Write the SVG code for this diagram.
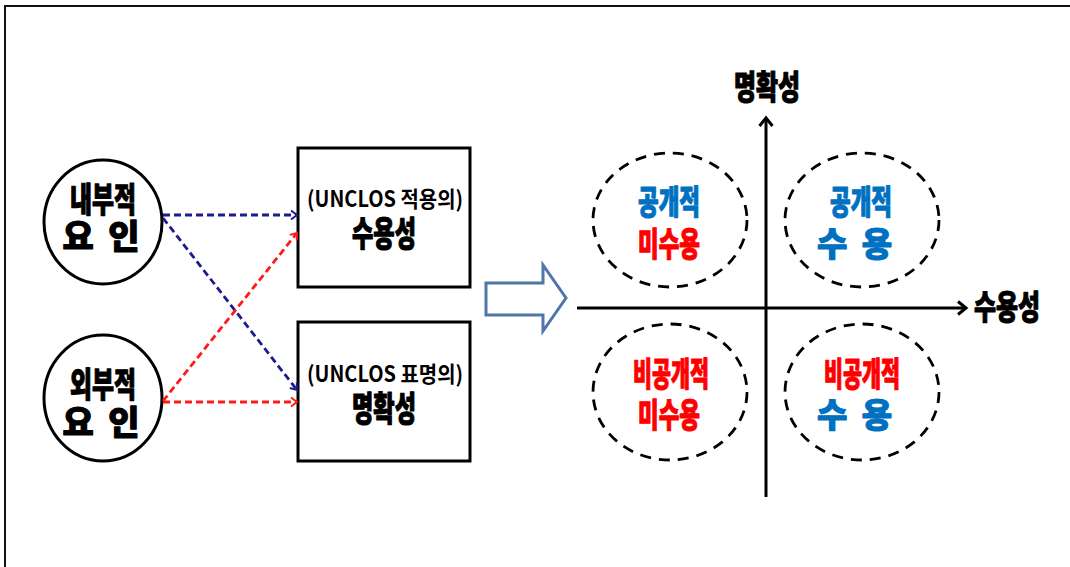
<svg xmlns="http://www.w3.org/2000/svg" width="1070" height="567" viewBox="0 0 1070 567">
<style>
.k{font-family:"Noto Sans CJK KR","Noto Sans",sans-serif;font-weight:900;text-anchor:middle;stroke-width:1.1;stroke-linejoin:round}
.sub{font-family:"Noto Sans CJK KR","Liberation Sans",sans-serif;font-weight:700;font-size:22px;text-anchor:middle;fill:#000}
.big{font-size:34px;fill:#000;stroke:#000}
.q{font-size:33px}
.blue{fill:#0070C0;stroke:#0070C0}
.red{fill:#FF0000;stroke:#FF0000}
.blk{fill:#000;stroke:#000}
.node{fill:#fff;stroke:#000;stroke-width:3}
.qd{fill:none;stroke:#000;stroke-width:2.8;stroke-dasharray:11 8}
.cb{fill:none;stroke:#1c1c8e;stroke-width:2.8;stroke-dasharray:7 4}
.cr{fill:none;stroke:#ff1a1a;stroke-width:2.8;stroke-dasharray:7 4}
.ax{fill:none;stroke:#000;stroke-width:3}
</style>
<defs>
<marker id="ab" markerUnits="userSpaceOnUse" markerWidth="12" markerHeight="12" refX="9" refY="6" orient="auto">
<path d="M3,1.5 L9,6 L3,10.5" fill="none" stroke="#1c1c8e" stroke-width="2"/>
</marker>
<marker id="ar" markerUnits="userSpaceOnUse" markerWidth="12" markerHeight="12" refX="9" refY="6" orient="auto">
<path d="M3,1.5 L9,6 L3,10.5" fill="none" stroke="#ff1a1a" stroke-width="2"/>
</marker>
<marker id="ak" markerUnits="userSpaceOnUse" markerWidth="16" markerHeight="16" refX="12" refY="8" orient="auto">
<path d="M4,1.5 L12,8 L4,14.5" fill="none" stroke="#000" stroke-width="3"/>
</marker>
</defs>
<rect width="1070" height="567" fill="#fff"/>
<path d="M5,567 L5,6 L1070,6" fill="none" stroke="#111" stroke-width="2"/>

<g id="internal">
<ellipse class="node" cx="103" cy="222" rx="59" ry="62"/>
<text class="k big" x="103" y="212" textLength="66" lengthAdjust="spacingAndGlyphs">내부적</text>
<text class="k big" y="249"><tspan x="82">요</tspan> <tspan x="124">인</tspan></text>
</g>
<g id="external">
<ellipse class="node" cx="103" cy="398" rx="59" ry="63"/>
<text class="k big" x="103" y="397" textLength="66" lengthAdjust="spacingAndGlyphs">외부적</text>
<text class="k big" y="435"><tspan x="82">요</tspan> <tspan x="124">인</tspan></text>
</g>
<g id="acceptance">
<rect class="node" x="298" y="148" width="172" height="139"/>
<text class="sub" x="385" y="207" textLength="156" lengthAdjust="spacingAndGlyphs">(UNCLOS 적용의)</text>
<text class="k big" x="384" y="246" textLength="64" lengthAdjust="spacingAndGlyphs">수용성</text>
</g>
<g id="clarity">
<rect class="node" x="298" y="322" width="172" height="139"/>
<text class="sub" x="385" y="382" textLength="156" lengthAdjust="spacingAndGlyphs">(UNCLOS 표명의)</text>
<text class="k big" x="384" y="421" textLength="64" lengthAdjust="spacingAndGlyphs">명확성</text>
</g>

<g id="connectors">
<line class="cb" x1="163" y1="215" x2="297" y2="215" marker-end="url(#ab)"/>
<line class="cb" x1="163" y1="218" x2="297" y2="390" marker-end="url(#ab)"/>
<line class="cr" x1="163" y1="401" x2="297" y2="233" marker-end="url(#ar)"/>
<line class="cr" x1="163" y1="402" x2="297" y2="402" marker-end="url(#ar)"/>
</g>

<g id="transition-arrow">
<polygon points="486,283 543,283 543,265 566,298 543,331 543,315 486,315" fill="#fff" stroke="#4f76a8" stroke-width="3" stroke-linejoin="miter"/>
</g>

<g id="axes">
<line class="ax" x1="766" y1="497" x2="766" y2="118" marker-end="url(#ak)"/>
<line class="ax" x1="577" y1="308" x2="966" y2="308" marker-end="url(#ak)"/>
<text class="k blk" x="767" y="99" font-size="33" textLength="66" lengthAdjust="spacingAndGlyphs">명확성</text>
<text class="k blk" x="1007" y="319" font-size="33" textLength="66" lengthAdjust="spacingAndGlyphs">수용성</text>
</g>

<g id="q-open-nonaccept">
<ellipse class="qd" cx="670" cy="220" rx="77" ry="67"/>
<text class="k q blue" x="669" y="214" textLength="62" lengthAdjust="spacingAndGlyphs">공개적</text>
<text class="k q red" x="669" y="256" textLength="62" lengthAdjust="spacingAndGlyphs">미수용</text>
</g>
<g id="q-open-accept">
<ellipse class="qd" cx="862" cy="220" rx="77" ry="67"/>
<text class="k q blue" x="861" y="214" textLength="62" lengthAdjust="spacingAndGlyphs">공개적</text>
<text class="k q blue" y="256"><tspan x="836">수</tspan> <tspan x="877">용</tspan></text>
</g>
<g id="q-closed-nonaccept">
<ellipse class="qd" cx="670" cy="392" rx="77" ry="68"/>
<text class="k q red" x="671" y="386" textLength="76" lengthAdjust="spacingAndGlyphs">비공개적</text>
<text class="k q red" x="669" y="427" textLength="62" lengthAdjust="spacingAndGlyphs">미수용</text>
</g>
<g id="q-closed-accept">
<ellipse class="qd" cx="862" cy="392" rx="77" ry="68"/>
<text class="k q red" x="862" y="386" textLength="76" lengthAdjust="spacingAndGlyphs">비공개적</text>
<text class="k q blue" y="427"><tspan x="836">수</tspan> <tspan x="877">용</tspan></text>
</g>
</svg>
